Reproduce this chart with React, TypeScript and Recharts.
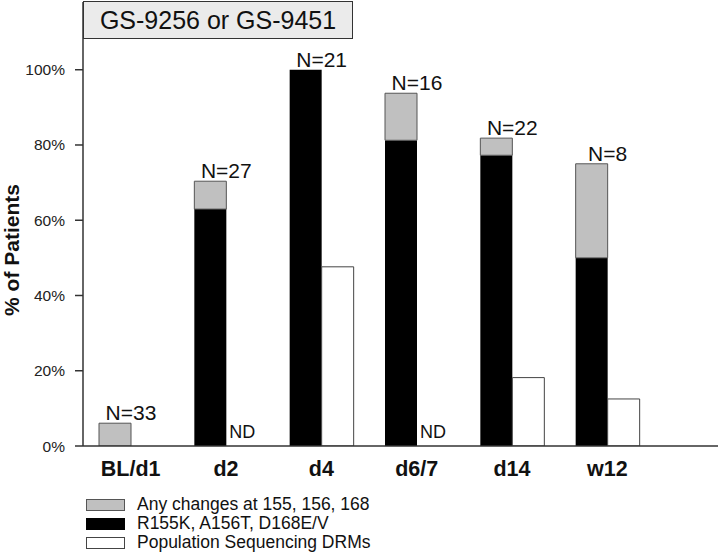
import React from 'react';
import {
    BarChart,
    Bar,
    XAxis,
    YAxis,
    LabelList,
} from 'recharts';

const categories = ['BL/d1', 'd2', 'd4', 'd6/7', 'd14', 'w12'];
const anyChanges = [6.06, 70.37, 100, 93.75, 81.82, 75];
const r155k = [0, 62.96, 100, 81.25, 77.27, 50];
const popSeq = [null, null, 47.62, null, 18.18, 12.5];
const nLabels = ['N=33', 'N=27', 'N=21', 'N=16', 'N=22', 'N=8'];
const ndLabels = ['', 'ND', '', 'ND', '', ''];
const yTicks = [0, 20, 40, 60, 80, 100];

const seriesNames = {
    gray: 'Any changes at 155, 156, 168',
    black: 'R155K, A156T, D168E/V',
    white: 'Population Sequencing DRMs',
};

const FONT = '"Liberation Sans", Arial, Helvetica, sans-serif';
const AXIS = '#333';

// gray part sits on top of the black one, so it is the difference
const data = categories.map((name, i) => ({
    name,
    black: r155k[i],
    gray: anyChanges[i] - r155k[i],
    white: popSeq[i],
    n: nLabels[i],
    nd: ndLabels[i],
}));

const NLabel = (props: any) => {
    const { x, y, width, value } = props;
    if (!value) return null;
    return (
        <text x={x + width} y={y - 3} textAnchor="middle" fontSize={21} fill="#111" fontFamily={FONT}>
            {value}
        </text>
    );
};

const NdLabel = (props: any) => {
    const { x, y, width, height, value } = props;
    if (!value) return null;
    return (
        <text x={x + width * 1.5} y={y + height - 8} textAnchor="middle" fontSize={18} fill="#111" fontFamily={FONT}>
            {value}
        </text>
    );
};

const legendItems = [
    { label: seriesNames.gray, fill: '#c0c0c0', stroke: '#555' },
    { label: seriesNames.black, fill: '#000', stroke: '#000' },
    { label: seriesNames.white, fill: '#fff', stroke: '#444' },
];

export default function App() {
    return (
        <div style={{ position: 'absolute', left: 0, top: 0, width: 720, height: 560, background: '#fff', fontFamily: FONT }}>
            <BarChart
                width={720}
                height={560}
                data={data}
                margin={{ top: 2, right: 2, bottom: 84, left: 0 }}
                barGap={0}
                barSize={32}
            >
                <XAxis
                    dataKey="name"
                    padding={{ left: 0, right: 63 }}
                    tickLine={false}
                    axisLine={{ stroke: AXIS, strokeWidth: 1.5 }}
                    tick={{ fontSize: 21.5, fontWeight: 'bold', fill: '#111', fontFamily: FONT }}
                    tickMargin={9}
                    interval={0}
                />
                <XAxis xAxisId="top" dataKey="name" orientation="top" height={0} tick={false} tickLine={false} axisLine={{ stroke: AXIS, strokeWidth: 1.5 }} />
                <YAxis
                    domain={[0, 118]}
                    ticks={yTicks}
                    allowDataOverflow
                    width={83}
                    tickSize={8}
                    tickMargin={10}
                    tickFormatter={(v) => `${v}%`}
                    axisLine={{ stroke: AXIS, strokeWidth: 1.5 }}
                    tickLine={{ stroke: AXIS, strokeWidth: 1.5 }}
                    tick={{ fontSize: 15.5, fill: '#222', fontFamily: FONT }}
                    label={{
                        content: () => (
                            <text x={19} y={250} transform="rotate(-90 19 250)" textAnchor="middle" fontSize={21} fontWeight="bold" fill="#111" fontFamily={FONT}>
                                % of Patients
                            </text>
                        ),
                    }}
                />
                <YAxis yAxisId="right" orientation="right" width={0} tick={false} tickLine={false} axisLine={{ stroke: AXIS, strokeWidth: 1.5 }} />
                <Bar dataKey="black" stackId="a" fill="#000" name={seriesNames.black} isAnimationActive={false}>
                    {/* d4 has no gray cap, so its N goes on the black bar */}
                    <LabelList dataKey={(row: any) => (row.gray > 0 ? '' : row.n)} content={NLabel} />
                    <LabelList dataKey="nd" content={NdLabel} />
                </Bar>
                <Bar dataKey="gray" stackId="a" fill="#c0c0c0" stroke="#555" strokeWidth={1} name={seriesNames.gray} isAnimationActive={false}>
                    <LabelList dataKey={(row: any) => (row.gray > 0 ? row.n : '')} content={NLabel} />
                </Bar>
                <Bar dataKey="white" fill="#fff" stroke="#444" strokeWidth={1} name={seriesNames.white} isAnimationActive={false} />
            </BarChart>

            {/* title box */}
            <div
                style={{
                    position: 'absolute', left: 83, top: 1, width: 270, height: 38,
                    background: '#ebebeb', border: '1.5px solid #333', boxSizing: 'border-box',
                    display: 'flex', alignItems: 'center', justifyContent: 'center',
                    fontSize: 25, color: '#111',
                }}
            >
                GS-9256 or GS-9451
            </div>

            {/* legend */}
            <div style={{ position: 'absolute', left: 86, top: 495 }}>
                {legendItems.map((it) => (
                    <div key={it.label} style={{ display: 'flex', alignItems: 'center', height: 19 }}>
                        <div style={{ width: 39, height: 12, background: it.fill, border: `1px solid ${it.stroke}`, boxSizing: 'border-box', marginRight: 12 }} />
                        <span style={{ fontSize: 17.5, color: '#111' }}>{it.label}</span>
                    </div>
                ))}
            </div>
        </div>
    );
}
